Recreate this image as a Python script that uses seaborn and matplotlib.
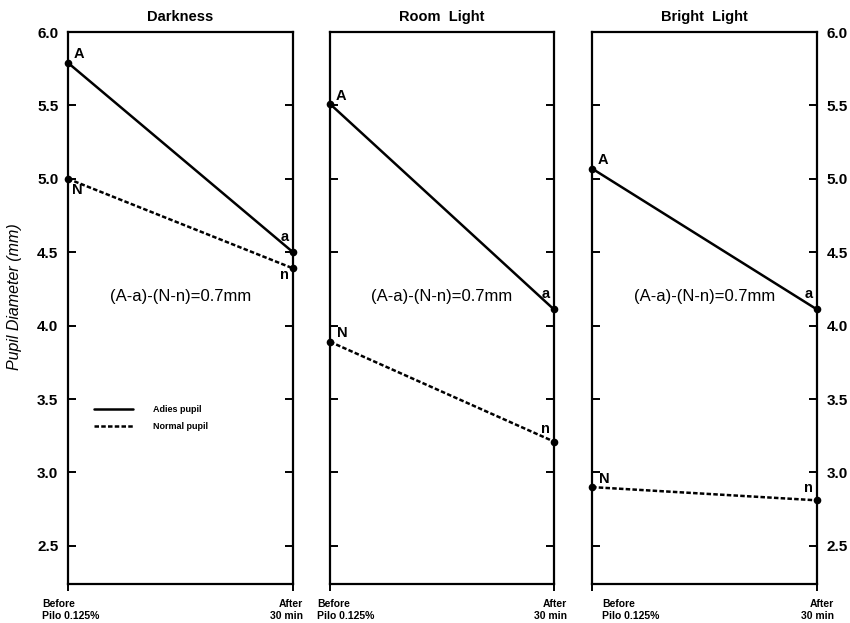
import matplotlib
matplotlib.use("Agg")
import matplotlib.pyplot as plt
import seaborn as sns
import pandas as pd
from matplotlib.lines import Line2D
from matplotlib.transforms import ScaledTranslation

sns.set_theme(style="white", rc={"text.color": "black", "axes.labelcolor": "black",
                                 "xtick.color": "black", "ytick.color": "black"})
plt.rcParams['font.family'] = ['Liberation Sans', 'DejaVu Sans']

conditions = ["Darkness", "Room  Light", "Bright  Light"]
timepoints = ["Before\nPilo 0.125%", "After\n30 min"]
adie_before = [5.79, 5.51, 5.07]
adie_after = [4.50, 4.11, 4.11]
normal_before = [5.00, 3.89, 2.90]
normal_after = [4.39, 3.21, 2.81]
yticks = [2.5, 3.0, 3.5, 4.0, 4.5, 5.0, 5.5, 6.0]
annotation = "(A-a)-(N-n)=0.7mm"

W, H = 850, 623
fig = plt.figure(figsize=(8.5, 6.23), dpi=100)
lefts_px = [68, 330, 592]
widths_px = [225, 224, 225]
top_px, bot_px = 32, 584
xlab_left_off = [-26, -13, 10]
xlab_right_off = [10, 13, 17]

for i, cond in enumerate(conditions):
    ax = fig.add_axes([lefts_px[i] / W, 1 - bot_px / H, widths_px[i] / W, (bot_px - top_px) / H])
    df = pd.DataFrame({
        "x": [0, 1, 0, 1],
        "y": [adie_before[i], adie_after[i], normal_before[i], normal_after[i]],
        "series": ["Adies pupil", "Adies pupil", "Normal pupil", "Normal pupil"],
    })
    sns.lineplot(data=df, x="x", y="y", style="series",
                 dashes={"Adies pupil": "", "Normal pupil": (1.8, 0.9)},
                 color="black", linewidth=1.8, ax=ax, legend=False,
                 marker="o", markersize=5.5, markeredgewidth=0)
    for line in ax.lines:
        line.set_clip_on(False)
    ax.set_xlim(0, 1)
    ax.set_ylim(2.24, 6.0)
    ax.set_xlabel("")
    ax.set_ylabel("")
    for s in ax.spines.values():
        s.set_color("black")
        s.set_linewidth(1.6)
    ax.set_yticks(yticks)
    ax.set_yticklabels([f"{v:.1f}" for v in yticks], fontweight="bold", fontsize=11)
    ax.tick_params(axis="y", direction="in", length=6, width=1.4, left=True, right=True,
                   labelleft=(i == 0), labelright=(i == 2), pad=7)
    ax.set_xticks([0, 1])
    ax.set_xticklabels(timepoints, fontweight="bold", fontsize=7.5, linespacing=1.25)
    ax.tick_params(axis="x", direction="out", length=5, width=1.4, bottom=True, pad=6)
    labs = ax.get_xticklabels()
    labs[0].set_ha("left")
    labs[0].set_multialignment("left")
    labs[1].set_ha("right")
    labs[1].set_multialignment("right")
    labs[0].set_transform(labs[0].get_transform() +
                          ScaledTranslation(xlab_left_off[i] / 100, 0, fig.dpi_scale_trans))
    labs[1].set_transform(labs[1].get_transform() +
                          ScaledTranslation(xlab_right_off[i] / 100, 0, fig.dpi_scale_trans))

    ax.set_title(cond, fontweight="bold", fontsize=10.5, pad=8)

    kw = dict(textcoords="offset points", fontsize=10.5, fontweight="bold")
    ax.annotate("A", (0, adie_before[i]), xytext=(4, 1), ha="left", va="bottom", **kw)
    ax.annotate("a", (1, adie_after[i]), xytext=(-3, 6), ha="right", va="bottom", **kw)
    if i == 0:
        ax.annotate("N", (0, normal_before[i]), xytext=(3, -3), ha="left", va="top", **kw)
        ax.annotate("n", (1, normal_after[i]), xytext=(-3, 0), ha="right", va="top", **kw)
    else:
        ax.annotate("N", (0, normal_before[i]), xytext=(5, 1), ha="left", va="bottom", **kw)
        ax.annotate("n", (1, normal_after[i]), xytext=(-3, 4), ha="right", va="bottom", **kw)

    ax.text(0.5, 4.20, annotation, ha="center", va="center", fontsize=12)

    if i == 0:
        ax.set_ylabel("Pupil Diameter (mm)", fontstyle="italic", fontsize=11.5)
        ax.yaxis.set_label_coords((22 - 68) / 225, 0.52)
        handles = [Line2D([], [], color="black", lw=1.8),
                   Line2D([], [], color="black", lw=1.8, linestyle=(0, (1.8, 0.9)))]
        ax.legend(handles, ["Adies pupil", "Normal pupil"], frameon=False,
                  loc="center left", bbox_to_anchor=(0.08, 0.30), handlelength=4.3,
                  prop={"weight": "bold", "size": 6.5}, handletextpad=2.2,
                  labelspacing=0.9)

fig.savefig("out.png", dpi=100)
